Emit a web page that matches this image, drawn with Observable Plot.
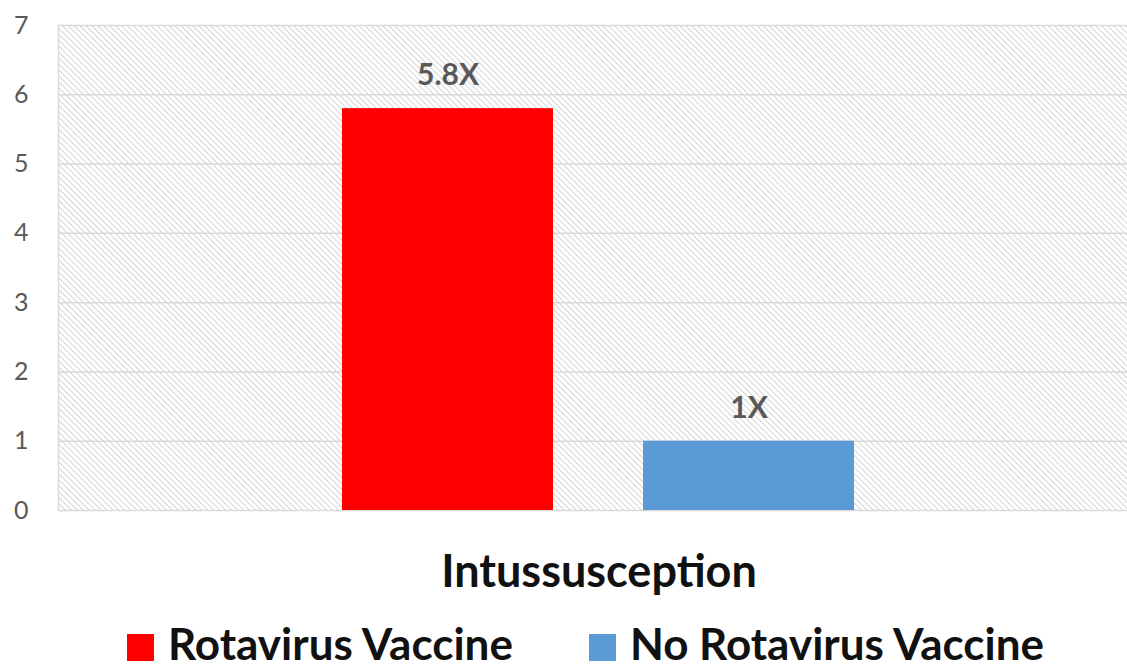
<!DOCTYPE html>
<html>
<head>
<meta charset="utf-8">
<script src="https://cdn.jsdelivr.net/npm/d3@7"></script>
<script src="https://cdn.jsdelivr.net/npm/@observablehq/plot@0.6"></script>
<style>
  html, body { margin: 0; padding: 0; background: #fff; }
  #chart { width: 1127px; height: 671px; overflow: hidden; font-family: Lato, "Open Sans", sans-serif; }
  .legend { display: flex; justify-content: flex-start; align-items: flex-start; gap: 76px; height: 56px; padding-left: 127px; padding-top: 6px; box-sizing: border-box; }
  .item { display: flex; align-items: center; gap: 14px; font-size: 44px; line-height: 44px; height: 44px; font-weight: bold; color: #111; white-space: nowrap; }
  .sw { width: 27px; height: 27px; display: inline-block; margin-top: 8px; }
</style>
</head>
<body>
<div id="chart"></div>
<script>
const categories = ["Intussusception"];
const series = ["Rotavirus Vaccine", "No Rotavirus Vaccine"];
const values = [5.8, 1];
const valueLabels = ["5.8X", "1X"];
const colors = ["#ff0000", "#5b9bd5"];
const yTicks = [0, 1, 2, 3, 4, 5, 6, 7];

const data = series.map((s, i) => ({category: categories[0], series: s, value: values[i], label: valueLabels[i]}));

const plot = Plot.plot({
  width: 1127,
  height: 615,
  marginLeft: 58,
  marginRight: 0,
  marginTop: 25,
  marginBottom: 105,
  style: {fontFamily: "Lato, 'Open Sans', sans-serif", background: "white", overflow: "visible"},
  fx: {domain: categories, padding: 0, label: null, axis: null},
  x: {domain: series, axis: null, paddingInner: 0.3, paddingOuter: 0.92, align: 0.51},
  y: {domain: [0, 7], label: null, axis: null},
  color: {domain: series, range: colors},
  marks: [
    Plot.frame({fill: "url(#hatch)"}),
    Plot.frame({anchor: "left", stroke: "#d9d9d9", strokeWidth: 1.5}),
    Plot.gridY(yTicks, {stroke: "#d9d9d9", strokeOpacity: 1, strokeWidth: 1.5}),
    Plot.barY(data, {fx: "category", x: "series", y: "value", fill: "series"}),
    Plot.text(data, {fx: "category", x: "series", y: "value", text: "label", dy: -33, fontSize: 30, fontWeight: "bold", fill: "#595959"}),
    Plot.axisY({ticks: yTicks, tickFormat: "d", tickSize: 0, tickPadding: 30, fontSize: 25, fill: "#595959", label: null}),
    Plot.text(categories, {fx: d => d, text: d => d, frameAnchor: "bottom", dy: 76, dx: 6, fontSize: 45, fontWeight: "bold", fill: "#111"})
  ]
});

const svg = d3.select(plot);
const pat = svg.insert("defs", ":first-child")
  .append("pattern")
  .attr("id", "hatch")
  .attr("patternUnits", "userSpaceOnUse")
  .attr("width", 4.2)
  .attr("height", 4.2)
  .attr("patternTransform", "rotate(-45)");
pat.append("rect").attr("width", 4.2).attr("height", 4.2).attr("fill", "#ffffff");
pat.append("line").attr("x1", 0).attr("y1", 0).attr("x2", 0).attr("y2", 4.2)
  .attr("stroke", "#d4d4d4").attr("stroke-width", 2);

const root = document.getElementById("chart");
root.appendChild(plot);

const legend = document.createElement("div");
legend.className = "legend";
series.forEach((s, i) => {
  const item = document.createElement("div");
  item.className = "item";
  const sw = document.createElement("span");
  sw.className = "sw";
  sw.style.background = colors[i];
  const t = document.createElement("span");
  t.textContent = s;
  item.appendChild(sw);
  item.appendChild(t);
  legend.appendChild(item);
});
root.appendChild(legend);
</script>
</body>
</html>
